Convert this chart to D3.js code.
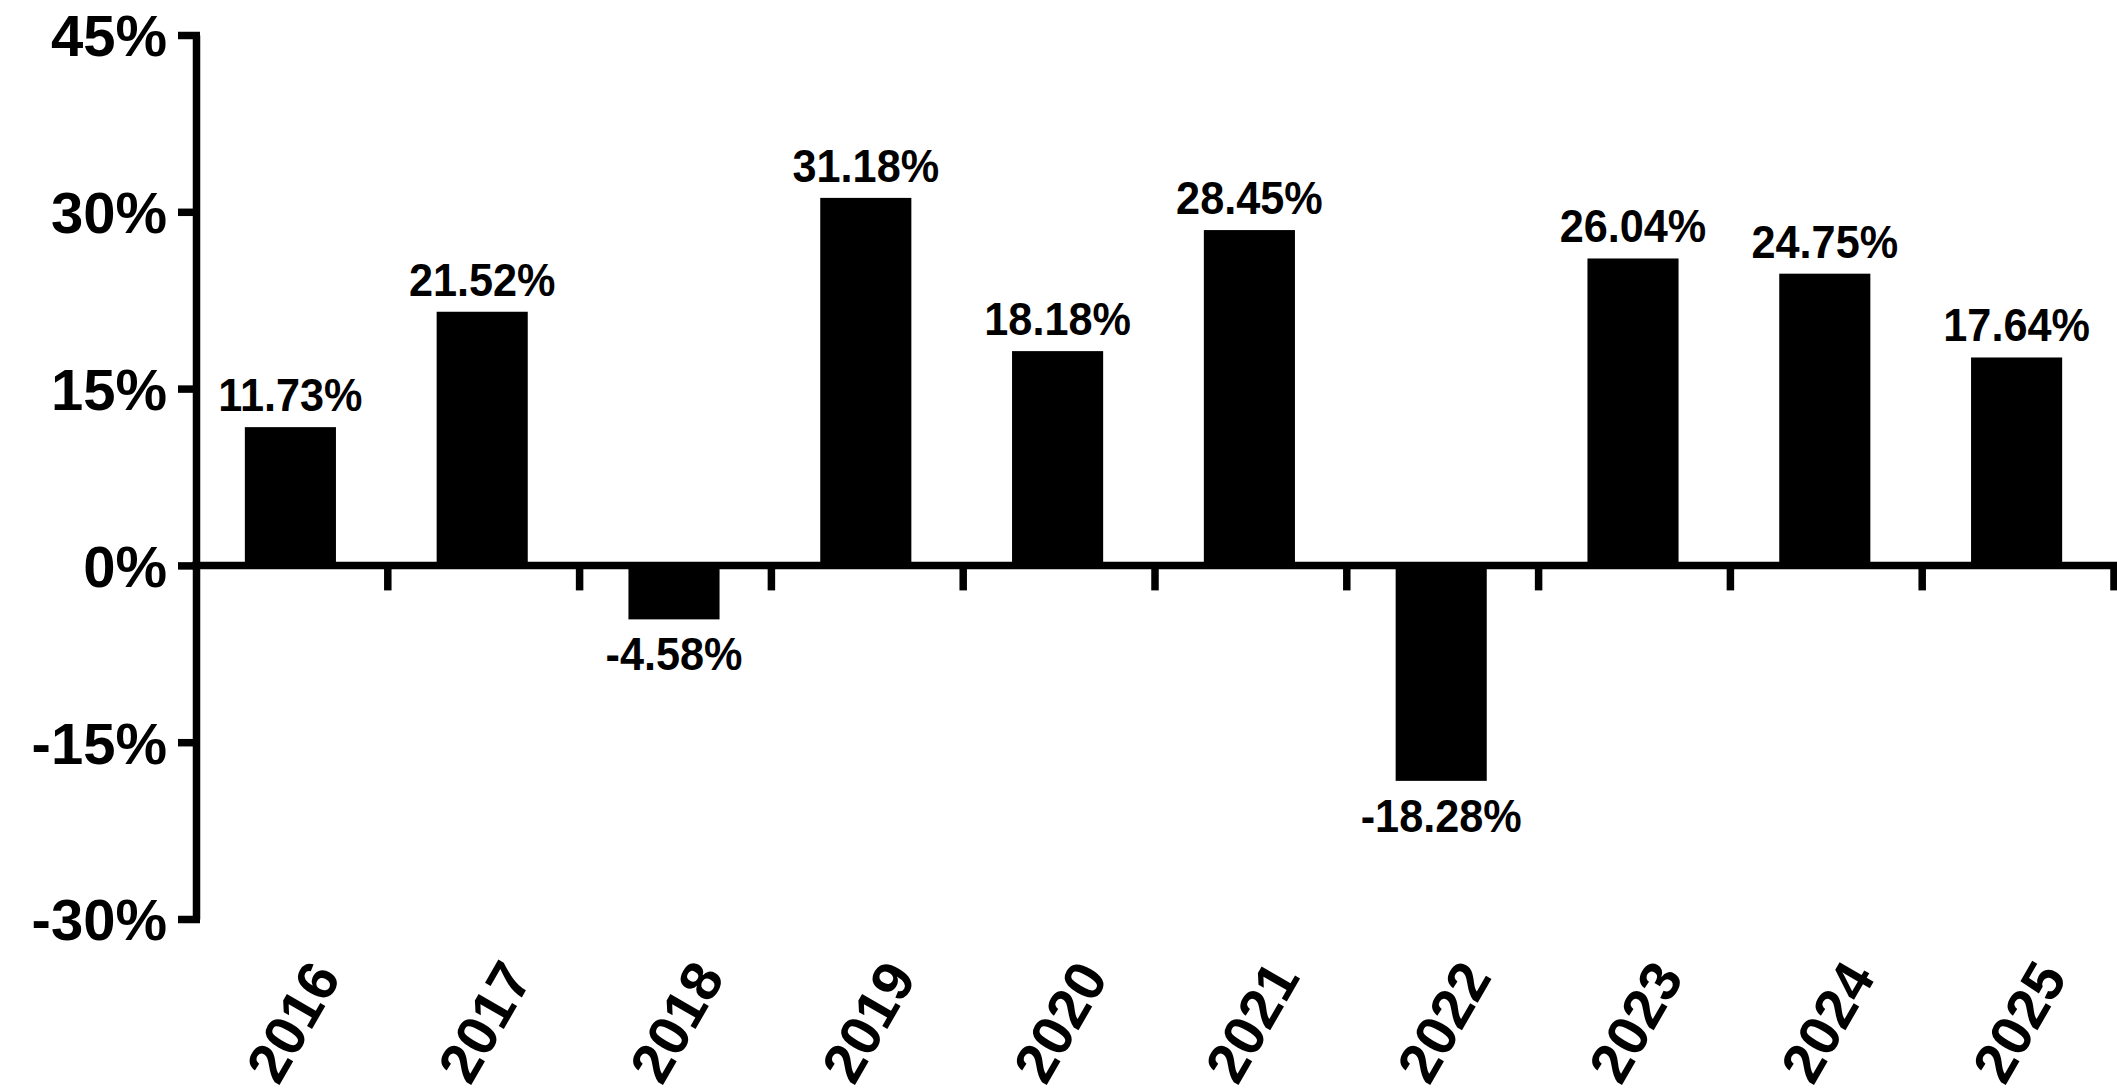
<!DOCTYPE html>
<html>
<head>
<meta charset="utf-8">
<script src="https://cdn.jsdelivr.net/npm/d3@7"></script>
<style>
  html, body { margin: 0; padding: 0; background: #fff; }
  svg { display: block; }
  text { font-family: "Liberation Sans", Arial, Helvetica, sans-serif; font-weight: bold; fill: #000; }
</style>
</head>
<body>
<svg id="chart" width="2117" height="1092"></svg>
<script>
const years = ["2016","2017","2018","2019","2020","2021","2022","2023","2024","2025"];
const returns = [11.73, 21.52, -4.58, 31.18, 18.18, 28.45, -18.28, 26.04, 24.75, 17.64];
const yTicks = [-30, -15, 0, 15, 30, 45];

const svg = d3.select("#chart");
const axisX = 196, right = 2114;
const y = d3.scaleLinear().domain([-30, 45]).range([919, 35]);
const x = d3.scaleBand().domain(years).range([axisX, right]).paddingInner(0.525).paddingOuter(0.2625);
const step = x.step();
const sw = 7.5;

// bars
svg.append("g").selectAll("rect").data(years).join("rect")
  .attr("x", d => x(d) - 1.5)
  .attr("width", x.bandwidth())
  .attr("y", (d, i) => y(Math.max(0, returns[i])))
  .attr("height", (d, i) => Math.abs(y(returns[i]) - y(0)))
  .attr("fill", "#000");

// zero line
svg.append("line")
  .attr("x1", axisX - 4).attr("x2", right + 3)
  .attr("y1", y(0)).attr("y2", y(0))
  .attr("stroke", "#000").attr("stroke-width", sw);

// x ticks at band boundaries
svg.append("g").selectAll("line").data(years).join("line")
  .attr("x1", d => x(d) - x.paddingOuter() * step + step)
  .attr("x2", d => x(d) - x.paddingOuter() * step + step)
  .attr("y1", y(0)).attr("y2", y(0) + 25)
  .attr("stroke", "#000").attr("stroke-width", sw);

// y axis
const yAxis = svg.append("g").attr("transform", `translate(${axisX},0)`)
  .call(d3.axisLeft(y).tickValues(yTicks).tickSize(18).tickSizeOuter(0).tickPadding(11).tickFormat(d => d + "%"));
yAxis.select(".domain").attr("stroke", "#000").attr("stroke-width", sw);
yAxis.selectAll(".tick line").attr("stroke", "#000").attr("stroke-width", sw).attr("x2", -18).attr("x1", 4);
yAxis.selectAll(".tick text")
  .attr("font-size", 58).attr("font-weight", "bold").attr("font-family", "Liberation Sans, Arial, sans-serif")
  .attr("fill", "#000").attr("dy", "0.36em").attr("x", -29);

// value labels
const labels = svg.append("g").selectAll("g").data(years).join("g")
  .attr("transform", (d, i) => {
    const cx = x(d) - 1.5 + x.bandwidth() / 2;
    const v = returns[i];
    const by = v >= 0 ? y(v) - 16 : y(v) + 51;
    return `translate(${cx},${by}) scale(0.92,1)`;
  });
labels.append("text")
  .attr("text-anchor", "middle")
  .attr("font-size", 47)
  .text((d, i) => returns[i].toFixed(2) + "%");

// x labels rotated
svg.append("g").selectAll("text").data(years).join("text")
  .attr("transform", d => `translate(${x(d) + x.bandwidth() / 2 + 50},977) rotate(-60)`)
  .attr("text-anchor", "end")
  .attr("font-size", 57)
  .text(d => d);
</script>
</body>
</html>
